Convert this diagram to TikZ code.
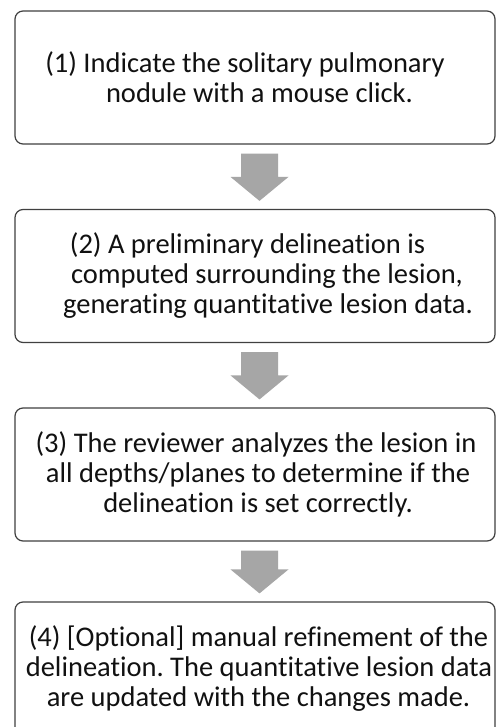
\documentclass[tikz,border=0pt]{standalone}
\usepackage{fontspec}
\setmainfont{Carlito}[Ligatures={NoCommon}]
\frenchspacing
\usetikzlibrary{calc}
\definecolor{boxline}{HTML}{404040}
\definecolor{arrowgray}{HTML}{A6A6A6}
\definecolor{txt}{HTML}{111111}
\newcommand\shl[2]{\hspace*{#1pt}\hspace*{#1pt}#2}
\tikzset{
  stepbox/.style={draw=boxline, line width=1.2pt, rounded corners=8pt,
    minimum width=480pt, minimum height=133pt, align=center, inner sep=0pt,
    text=txt, font=\fontsize{28.5}{30}\selectfont},
  arr/.style={fill=arrowgray, draw=none}
}
\begin{document}
\begin{tikzpicture}[x=1pt,y=-1pt]
\useasboundingbox (0,0) rectangle (497,727);
\clip (0,0) rectangle (497,727);
\fill[white] (0,0) rectangle (497,727);
\node[stepbox] (b1) at (255,77.5) {\shl{-10}{(1) Indicate the solitary pulmonary}\\\shl{4.5}{nodule with a mouse click.}};
\node[stepbox] (b2) at (255,276) {\shl{-7.5}{(2) A preliminary delineation is}\\\shl{12}{computed surrounding the lesion,}\\\shl{13}{generating quantitative lesion data.}};
\node[stepbox] (b3) at (255,474.5) {\shl{1}{(3) The reviewer analyzes the lesion in}\\\shl{3}{all depths/planes to determine if the}\\\shl{3}{delineation is set correctly.}};
\node[stepbox] (b4) at (255,668.5) {\shl{3.5}{(4) [Optional] manual refinement of the}\\\shl{4}{delineation. The quantitative lesion data}\\\shl{3.5}{are updated with the changes made.}};
\foreach \a/\b in {b1/b2,b2/b3,b3/b4}{
  \fill[arr] let \p1=(\a.south), \p2=(\b.north) in
    ({\x1+4.5pt-18.5pt},{\y1-9pt}) -- ({\x1+4.5pt+18.5pt},{\y1-9pt})
    -- ({\x1+23pt},{\y2+32pt}) -- ({\x1+33.5pt},{\y2+32pt})
    -- ({\x1+4.5pt},{\y2+8pt}) -- ({\x1-24.5pt},{\y2+32pt})
    -- ({\x1-14pt},{\y2+32pt}) -- cycle;
}
\end{tikzpicture}
\end{document}
